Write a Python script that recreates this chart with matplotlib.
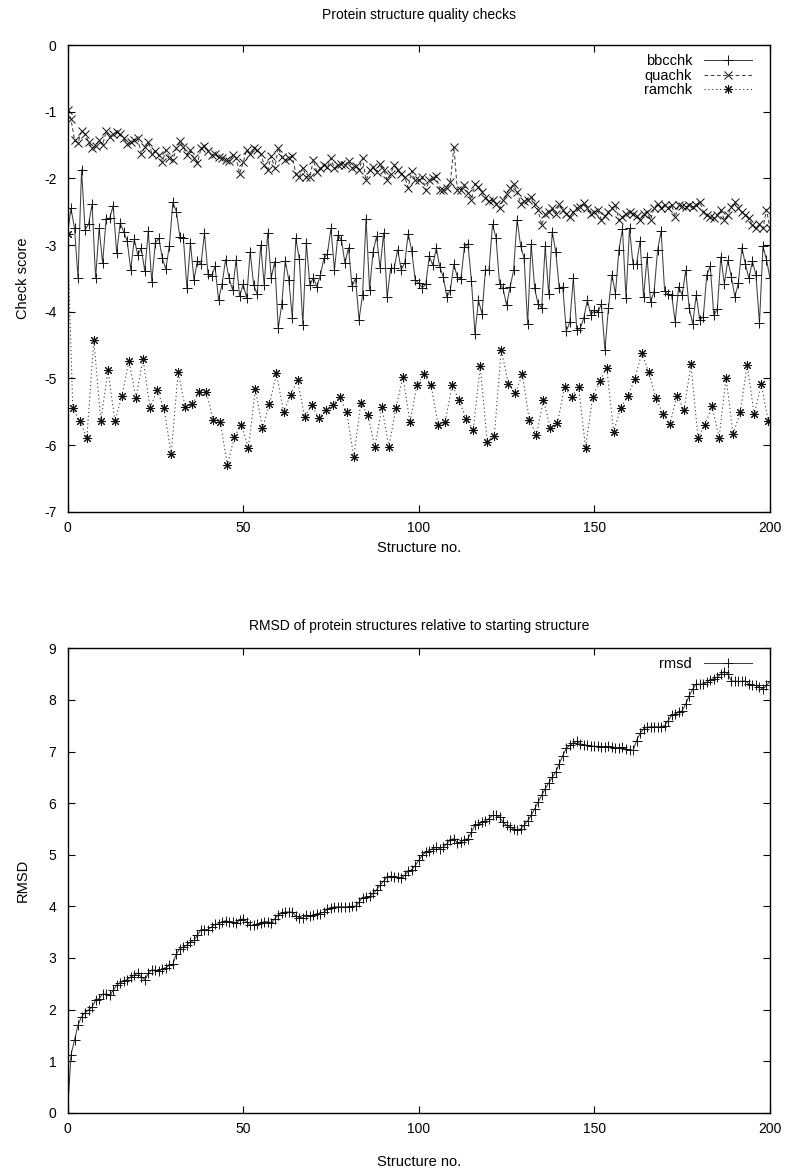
import numpy as np
import matplotlib
matplotlib.use("Agg")
import matplotlib.pyplot as plt

plt.rcParams['font.family'] = ['Liberation Sans', 'DejaVu Sans']
plt.rcParams['font.size'] = 10

# ---------------- data ----------------
structure_no = np.arange(201)

bbcchk = [
    -2.84, -2.45, -2.75, -3.50, -1.87, -2.77, -2.69, -2.39, -3.50, -2.75,
    -3.27, -2.61, -2.60, -2.41, -3.12, -2.67, -2.80, -2.94, -3.37, -2.91,
    -3.15, -3.05, -3.39, -2.79, -3.55, -2.97, -2.90, -3.20, -3.36, -3.01,
    -2.36, -2.50, -2.88, -2.90, -3.65, -2.97, -3.52, -3.24, -3.29, -2.82,
    -3.44, -3.47, -3.32, -3.82, -3.59, -3.22, -3.50, -3.67, -3.22, -3.77,
    -3.59, -3.79, -3.10, -3.60, -3.74, -3.00, -3.60, -2.82, -3.49, -3.25,
    -4.25, -3.89, -3.24, -3.52, -4.09, -2.90, -3.21, -4.20, -2.97, -3.60,
    -3.49, -3.63, -3.45, -3.20, -3.13, -2.75, -3.37, -2.85, -2.93, -3.27,
    -3.04, -3.62, -3.50, -4.12, -3.75, -2.61, -3.67, -3.10, -2.87, -3.35,
    -2.82, -3.78, -3.35, -3.35, -3.07, -3.37, -3.27, -2.83, -3.09, -3.53,
    -3.57, -3.64, -3.59, -3.17, -3.30, -3.05, -3.33, -3.48, -3.78, -3.67,
    -3.29, -3.48, -3.51, -3.03, -2.98, -3.54, -4.33, -3.83, -4.03, -3.37,
    -3.38, -2.69, -2.89, -3.58, -3.65, -3.90, -3.63, -3.38, -2.62, -3.01,
    -3.20, -4.19, -2.98, -3.65, -3.89, -3.94, -3.02, -3.74, -2.80, -3.10,
    -3.64, -3.63, -4.29, -4.16, -3.50, -4.27, -4.25, -4.09, -3.83, -4.05,
    -3.98, -4.00, -3.89, -4.57, -3.95, -3.45, -3.73, -3.07, -2.76, -3.80,
    -2.75, -3.29, -3.29, -2.94, -3.78, -3.18, -3.85, -3.70, -3.08, -2.79,
    -3.69, -3.74, -3.75, -4.15, -3.63, -3.75, -3.38, -3.95, -4.18, -3.75,
    -4.12, -4.08, -3.45, -3.32, -4.05, -3.96, -3.18, -3.58, -3.23, -3.48,
    -3.78, -3.57, -3.04, -3.29, -3.50, -3.24, -3.45, -4.17, -3.02, -3.22,
    -3.50,
]

quachk = [
    -0.98, -1.11, -1.43, -1.47, -1.29, -1.34, -1.45, -1.55, -1.52, -1.43,
    -1.50, -1.29, -1.38, -1.33, -1.31, -1.34, -1.40, -1.49, -1.46, -1.43,
    -1.40, -1.63, -1.53, -1.45, -1.63, -1.59, -1.65, -1.75, -1.58, -1.69,
    -1.73, -1.55, -1.44, -1.53, -1.65, -1.58, -1.70, -1.77, -1.55, -1.52,
    -1.59, -1.65, -1.64, -1.68, -1.70, -1.73, -1.74, -1.65, -1.69, -1.93,
    -1.76, -1.58, -1.64, -1.55, -1.58, -1.63, -1.80, -1.88, -1.67, -1.85,
    -1.54, -1.68, -1.73, -1.69, -1.67, -1.93, -1.98, -1.84, -1.98, -1.98,
    -1.72, -1.90, -1.85, -1.80, -1.83, -1.70, -1.85, -1.80, -1.78, -1.80,
    -1.74, -1.84, -1.82, -1.87, -1.70, -2.03, -1.88, -1.83, -1.90, -1.78,
    -1.87, -2.02, -1.93, -1.80, -1.88, -1.93, -1.98, -2.14, -1.89, -2.03,
    -2.03, -1.98, -2.18, -2.03, -2.00, -1.97, -2.18, -2.17, -2.15, -2.05,
    -1.53, -2.18, -2.18, -2.10, -2.22, -2.32, -2.08, -2.13, -2.20, -2.29,
    -2.34, -2.33, -2.38, -2.45, -2.33, -2.23, -2.15, -2.09, -2.20, -2.38,
    -2.34, -2.32, -2.28, -2.38, -2.48, -2.70, -2.53, -2.50, -2.45, -2.53,
    -2.39, -2.48, -2.53, -2.58, -2.50, -2.45, -2.43, -2.37, -2.45, -2.53,
    -2.50, -2.48, -2.62, -2.57, -2.50, -2.45, -2.40, -2.63, -2.58, -2.53,
    -2.50, -2.53, -2.57, -2.62, -2.53, -2.50, -2.62, -2.45, -2.38, -2.45,
    -2.40, -2.44, -2.40, -2.58, -2.40, -2.42, -2.43, -2.40, -2.43, -2.40,
    -2.35, -2.50, -2.55, -2.58, -2.60, -2.55, -2.48, -2.62, -2.55, -2.43,
    -2.35, -2.45, -2.50, -2.55, -2.60, -2.70, -2.75, -2.69, -2.75, -2.47,
    -2.75,
]

ramchk_x = np.concatenate([[0.0], np.arange(1.5, 200.0, 2.0)])
ramchk = [
    -2.84,
    -5.44, -5.64, -5.89, -4.43, -5.64, -4.88, -5.64, -5.26, -4.74, -5.29,
    -4.71, -5.44, -5.18, -5.45, -6.14, -4.90, -5.43, -5.39, -5.20, -5.20,
    -5.62, -5.65, -6.30, -5.88, -5.70,
    -6.04, -5.16, -5.75, -5.39, -4.92, -5.50, -5.25, -5.03, -5.58, -5.40,
    -5.59, -5.48, -5.40, -5.28, -5.51, -6.18, -5.37, -5.55, -6.03, -5.43,
    -6.03, -5.44, -4.98, -5.66, -5.10,
    -4.94, -5.10, -5.70, -5.66, -5.10, -5.33, -5.61, -5.78, -4.82, -5.95,
    -5.86, -4.57, -5.08, -5.22, -4.94, -5.63, -5.85, -5.33, -5.75, -5.67,
    -5.13, -5.28, -5.13, -6.04, -5.28,
    -5.04, -4.84, -5.80, -5.44, -5.27, -5.01, -4.62, -4.91, -5.29, -5.54,
    -5.69, -5.26, -5.48, -4.79, -5.89, -5.70, -5.42, -5.89, -4.99, -5.84,
    -5.51, -4.80, -5.54, -5.09, -5.64,
]

rmsd = [
    0.00, 1.12, 1.41, 1.70, 1.86, 1.94, 1.99, 2.05, 2.18, 2.21,
    2.30, 2.30, 2.28, 2.37, 2.47, 2.52, 2.55, 2.58, 2.63, 2.66,
    2.71, 2.63, 2.58, 2.70, 2.77, 2.76, 2.75, 2.79, 2.81, 2.86,
    2.88, 3.08, 3.18, 3.21, 3.25, 3.31, 3.34, 3.44, 3.55, 3.55,
    3.55, 3.60, 3.65, 3.66, 3.70, 3.72, 3.70, 3.70, 3.68, 3.73,
    3.76, 3.70, 3.63, 3.63, 3.65, 3.68, 3.70, 3.70, 3.68, 3.76,
    3.83, 3.87, 3.89, 3.89, 3.89, 3.81, 3.78, 3.78, 3.83, 3.81,
    3.83, 3.86, 3.86, 3.89, 3.94, 3.97, 3.99, 3.99, 3.99, 3.99,
    3.99, 4.00, 4.00, 4.08, 4.17, 4.18, 4.19, 4.25, 4.32, 4.41,
    4.49, 4.57, 4.58, 4.57, 4.57, 4.54, 4.60, 4.68, 4.71, 4.79,
    4.89, 4.99, 5.05, 5.08, 5.12, 5.14, 5.12, 5.15, 5.21, 5.29,
    5.31, 5.23, 5.25, 5.29, 5.31, 5.44, 5.57, 5.59, 5.63, 5.66,
    5.70, 5.76, 5.76, 5.73, 5.63, 5.57, 5.54, 5.50, 5.47, 5.50,
    5.57, 5.66, 5.76, 5.89, 6.02, 6.15, 6.28, 6.39, 6.50, 6.60,
    6.76, 6.92, 7.06, 7.12, 7.16, 7.20, 7.15, 7.13, 7.12, 7.10,
    7.10, 7.10, 7.08, 7.08, 7.10, 7.08, 7.06, 7.06, 7.08, 7.05,
    7.03, 7.02, 7.21, 7.35, 7.44, 7.47, 7.48, 7.48, 7.48, 7.48,
    7.50, 7.60, 7.70, 7.73, 7.76, 7.79, 7.92, 8.08, 8.21, 8.31,
    8.30, 8.31, 8.34, 8.39, 8.41, 8.44, 8.50, 8.55, 8.50, 8.37,
    8.36, 8.36, 8.36, 8.37, 8.31, 8.28, 8.28, 8.25, 8.21, 8.28,
    8.36,
]

x_ticks = [0, 50, 100, 150, 200]
top_yticks = [0, -1, -2, -3, -4, -5, -6, -7]
bottom_yticks = [0, 1, 2, 3, 4, 5, 6, 7, 8, 9]

# ---------------- figure ----------------
W, H = 800, 1173
fig = plt.figure(figsize=(W / 100, H / 100), dpi=100)

def px_axes(left, top, right, bottom):
    return fig.add_axes([left / W, 1 - bottom / H, (right - left) / W, (bottom - top) / H])

line_col = '#404040'
mk_col = '#101010'

ax1 = px_axes(67.5, 45, 770, 511.7)
ax1.plot(structure_no, bbcchk, color=line_col, lw=0.75, marker='+', ms=6.5,
         mew=0.7, mec=mk_col, label='bbcchk')
ax1.plot(structure_no, quachk, color=line_col, lw=0.75, dashes=(3.5, 2.5),
         marker='x', ms=5.5, mew=0.7, mec=mk_col, label='quachk')
ax1.plot(ramchk_x, ramchk, color=line_col, lw=0.75, dashes=(1.2, 2.5),
         marker=(8, 2, 0), ms=6.5, mew=0.75, mec=mk_col, label='ramchk')
ax1.set_xlim(0, 200)
ax1.set_ylim(-7, 0)
ax1.set_xticks(x_ticks)
ax1.set_yticks(top_yticks)
ax1.set_yticklabels([str(v) for v in top_yticks])

ax2 = px_axes(67.5, 648.3, 770, 1112.7)
ax2.plot(structure_no, rmsd, color=line_col, lw=0.75, marker='+', ms=6.5,
         mew=0.7, mec=mk_col, label='rmsd')
ax2.set_xlim(0, 200)
ax2.set_ylim(0, 9)
ax2.set_xticks(x_ticks)
ax2.set_yticks(bottom_yticks)

for ax in (ax1, ax2):
    ax.tick_params(direction='in', length=5, width=0.8, top=True, right=True,
                   labelsize=10, color='black')
    ax.tick_params(axis='y', pad=8)
    ax.tick_params(axis='x', pad=7)
    for s in ax.spines.values():
        s.set_linewidth(1.0)
        s.set_color('black')
    ax.legend(loc='upper right', bbox_to_anchor=(1 - 18 / 702.5, 1 - 9 / 466),
              frameon=False, markerfirst=False, handlelength=3.3,
              handletextpad=0.8, labelspacing=0.05, borderpad=0,
              borderaxespad=0, fontsize=10.5)

fig.text(418.75 / W, 1 - 15 / H, 'Protein structure quality checks',
         ha='center', va='center', fontsize=10)
fig.text(418.75 / W, 1 - 548 / H, 'Structure no.', ha='center', va='center', fontsize=10.5)
fig.text(23 / W, 1 - 278 / H, 'Check score', ha='center', va='center',
         rotation=90, fontsize=10.5)

fig.text(418.75 / W, 1 - 626 / H, 'RMSD of protein structures relative to starting structure',
         ha='center', va='center', fontsize=10)
fig.text(418.75 / W, 1 - 1162 / H, 'Structure no.', ha='center', va='center', fontsize=10.5)
fig.text(23 / W, 1 - 880 / H, 'RMSD', ha='center', va='center',
         rotation=90, fontsize=10.5)

fig.savefig('out.png', dpi=100)
